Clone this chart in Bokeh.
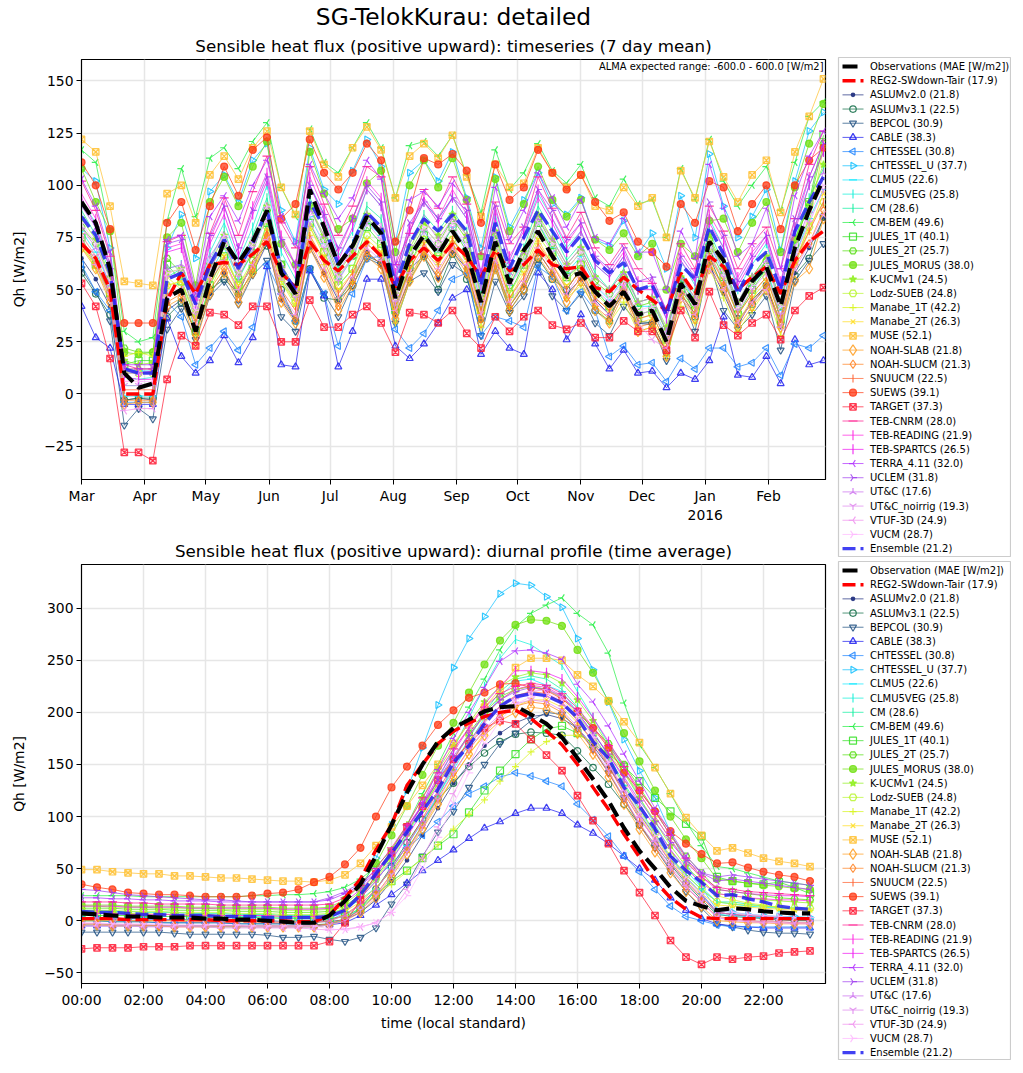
import math
import numpy as np
from bokeh.plotting import figure
from bokeh.layouts import column, row
from bokeh.models import Label, FixedTicker, Range1d, Title
from bokeh.core.properties import value
from bokeh.embed import file_html
from bokeh.resources import INLINE

FONT = "DejaVu Sans"

MONTH_DAYS = [0, 31, 61, 92, 122, 153, 184, 214, 245, 275, 306, 337]
MONTH_LABELS = ["Mar", "Apr", "May", "Jun", "Jul", "Aug", "Sep", "Oct", "Nov", "Dec", "Jan\n2016", "Feb"]
HOUR_TICKS = list(range(0, 24, 2))
HOUR_LABELS = ["%02d:00" % h for h in HOUR_TICKS]
YTICKS_TOP = [-25, 0, 25, 50, 75, 100, 125, 150]
YTICKS_BOTTOM = [-50, 0, 50, 100, 150, 200, 250, 300]

MODELS = ["ASLUMv2.0", "ASLUMv3.1", "BEPCOL", "CABLE", "CHTESSEL", "CHTESSEL_U", "CLMU5", "CLMU5VEG", "CM", "CM-BEM",
          "JULES_1T", "JULES_2T", "JULES_MORUS", "K-UCMv1", "Lodz-SUEB", "Manabe_1T", "Manabe_2T", "MUSE", "NOAH-SLAB",
          "NOAH-SLUCM", "SNUUCM", "SUEWS", "TARGET", "TEB-CNRM", "TEB-READING", "TEB-SPARTCS", "TERRA_4.11", "UCLEM",
          "UT&C", "UT&C_noirrig", "VTUF-3D", "VUCM"]
MAE = [21.8, 22.5, 30.9, 38.3, 30.8, 37.7, 22.6, 25.8, 28.6, 49.6, 40.1, 25.7, 38.0, 24.5, 24.8, 42.2, 26.3, 52.1, 21.8,
       21.3, 22.5, 39.1, 37.3, 28.0, 21.9, 26.5, 32.0, 31.8, 17.6, 19.3, 24.9, 28.7]
MAE_REG2 = 17.9
MAE_ENS = 21.2

# Weekly (7 day mean) sensible heat flux, W/m2
OBS_W = [92,82,60,10,3,5,46,50,30,55,73,63,73,88,58,48,98,80,62,71,85,77,46,66,76,67,78,68,44,73,53,69,78,66,56,58,49,42,49,38,40,25,53,43,73,64,42,54,61,42,70,88,103]
REG2_W = [72,65,50,0,0,0,45,58,48,62,63,62,67,73,58,51,73,64,59,66,73,66,51,64,70,64,72,66,56,69,59,62,69,62,60,61,51,49,56,50,45,40,58,48,66,61,50,56,61,48,64,73,78]
ENS_W = [85,76,58,12,10,10,55,58,43,62,74,60,72,88,60,50,92,80,62,72,87,80,52,72,84,78,86,78,52,82,60,75,88,78,68,76,64,58,63,50,52,38,62,55,80,67,48,62,68,50,78,92,104]
ASLUM20_W = [65,55,42,-3,-2,-3,40,45,30,48,58,48,58,72,45,35,70,58,45,55,68,62,38,55,66,55,68,60,35,62,42,52,68,58,48,55,45,38,48,34,34,20,48,38,62,48,33,45,52,32,58,70,84]
ASLUM31_W = [58,48,38,-3,-2,-2,37,44,30,50,55,48,64,71,50,35,60,46,45,52,66,63,40,60,66,50,67,55,36,60,40,50,65,55,50,60,40,35,52,35,34,20,55,37,66,50,36,43,52,34,57,65,85]
BEPCOL_W = [60,49,35,-15,-7,-12,31,41,26,47,54,43,57,64,37,30,60,48,37,52,65,62,34,54,58,49,62,57,28,54,39,47,62,47,40,48,34,28,42,34,33,16,48,30,64,40,31,38,47,21,54,64,72]
CABLE_W = [42,27,22,-5,-5,-5,36,18,10,16,28,15,27,61,14,13,59,47,13,30,55,55,23,17,24,34,46,50,19,30,22,19,58,50,26,38,24,12,21,10,11,3,10,7,16,37,9,8,18,5,26,14,16]
CHTESSEL_W = [62,49,40,-4,-4,-4,44,37,14,22,30,21,32,62,48,35,60,48,23,48,65,66,31,22,29,40,55,58,28,37,35,32,61,56,40,49,40,18,23,14,15,6,17,12,22,22,13,15,22,9,24,22,28]
CHTESSELU_W = [108,102,70,12,11,11,70,86,65,97,105,92,112,120,88,73,118,98,91,107,122,109,73,106,112,102,116,94,70,104,80,93,106,91,86,94,74,71,83,67,77,60,95,75,115,90,75,85,98,69,102,126,135]
CLMU5_W = [78,68,52,-1,-1,-1,48,55,35,58,70,55,68,88,55,45,85,72,55,65,82,76,46,66,78,68,80,70,43,74,52,64,82,70,58,66,52,45,56,42,42,28,55,45,72,58,42,52,60,40,66,84,98]
CLMU5VEG_W = [92,82,62,8,7,8,60,62,45,68,82,64,80,100,68,55,100,86,66,78,98,90,55,78,92,84,94,84,52,86,60,76,96,84,70,78,62,56,66,50,52,36,64,52,84,70,50,62,72,50,80,100,116]
CM_W = [88,76,58,4,4,4,56,60,42,64,78,60,76,94,62,50,94,80,60,72,90,84,50,72,86,78,88,78,48,80,56,70,90,78,64,72,58,50,60,44,46,30,58,48,78,62,44,56,66,44,74,94,108]
CMBEM_W = [117,111,78,30,25,27,83,108,85,113,118,108,121,130,99,85,127,111,106,118,130,118,94,119,121,114,124,105,87,117,98,106,120,107,101,110,94,90,103,91,93,75,108,93,122,102,90,100,109,88,111,133,140]
JULES1T_W = [75,62,48,14,16,16,62,54,30,52,66,52,60,82,62,48,82,68,52,60,80,72,40,62,76,68,80,68,40,72,48,62,82,68,56,62,50,42,52,38,40,26,50,40,70,56,38,50,60,36,72,92,124]
JULES2T_W = [80,72,55,22,20,20,65,58,38,60,72,56,68,88,62,50,90,74,56,66,84,78,46,68,80,72,84,74,46,76,52,66,84,72,60,68,54,48,56,42,44,30,54,44,74,60,42,54,64,42,74,90,120]
MORUS_W = [108,92,78,20,19,20,75,82,52,92,104,90,109,121,72,62,116,96,79,84,101,107,68,100,112,99,113,93,66,103,78,91,109,93,85,93,74,69,77,66,72,50,72,66,83,84,68,82,92,68,99,120,139]
KUCM_W = [84,74,56,16,14,15,58,60,38,62,76,58,72,90,60,48,90,76,58,68,86,78,48,70,82,76,86,76,46,78,54,68,86,74,62,70,56,50,58,44,46,32,56,46,76,60,44,56,66,44,74,92,110]
LODZ_W = [70,62,48,10,10,10,52,54,38,56,68,52,64,80,54,44,80,68,52,60,76,70,42,62,74,66,74,66,40,70,48,60,76,66,54,62,48,42,50,36,38,24,48,40,68,54,38,48,56,36,64,80,92]
MANABE1_W = [72,60,46,18,20,18,56,50,28,50,64,48,58,76,54,42,76,62,46,54,72,66,34,54,68,62,72,60,32,62,42,54,72,60,46,52,42,34,44,30,32,18,42,34,60,46,30,40,50,28,62,82,118]
MANABE2_W = [76,66,50,12,12,12,52,54,36,56,66,52,62,78,56,44,80,66,50,58,74,68,40,60,72,64,74,64,38,68,46,58,74,62,52,58,46,40,48,34,36,22,46,38,64,50,34,46,54,32,62,78,96]
MUSE_W = [122,116,90,54,53,52,96,100,82,105,114,103,118,126,99,86,126,110,104,118,128,117,94,114,120,113,124,104,85,110,99,101,118,106,99,105,90,88,99,90,94,75,107,94,121,104,92,105,112,87,116,133,151]
SLAB_W = [70,60,44,-5,-4,-4,42,46,24,48,58,44,58,74,44,34,70,56,40,52,66,60,36,54,66,56,68,58,34,60,40,50,66,56,44,54,40,34,48,30,32,18,46,36,60,50,32,42,50,32,54,60,84]
SLUCM_W = [72,62,46,-3,-3,-3,44,48,28,50,60,46,60,76,46,36,72,58,42,54,68,62,38,56,68,58,70,60,36,62,42,52,68,58,46,56,42,36,50,32,34,20,48,38,62,52,34,44,52,34,62,72,88]
SNUUCM_W = [74,64,48,2,2,2,48,50,34,54,64,50,62,78,50,40,76,64,48,58,72,66,42,60,72,62,74,64,40,66,46,56,72,62,50,60,46,40,52,36,38,24,50,42,66,54,38,48,56,36,64,78,92]
SUEWS_W = [111,100,79,34,34,34,82,92,69,90,109,95,117,123,84,91,122,106,98,106,120,112,73,88,113,110,115,107,82,110,93,99,117,106,98,105,92,83,87,73,68,61,91,82,102,99,78,91,100,79,100,112,118]
TARGET_W = [53,42,17,-28,-28,-32,7,28,23,39,38,33,42,42,25,25,45,32,32,38,42,34,20,39,38,34,40,29,22,37,30,37,40,33,31,34,27,27,35,30,30,21,40,27,49,33,28,34,38,26,40,47,51]
CNRM_W = [102,88,66,14,12,12,73,76,45,77,94,76,97,114,82,70,109,91,76,90,109,104,62,77,98,89,104,91,67,92,72,80,104,89,75,87,70,62,72,60,53,40,72,60,90,78,60,72,80,60,84,110,126]
READING_W = [96,84,62,12,10,11,70,72,44,74,90,70,90,106,76,62,104,88,68,84,102,94,58,80,94,84,98,86,58,88,66,78,98,84,72,82,66,58,68,54,54,40,68,58,86,74,56,68,76,54,80,104,120]
SPARTCS_W = [94,80,60,8,7,7,68,70,42,72,86,66,86,102,72,58,100,84,64,80,98,90,54,78,92,82,94,84,54,84,62,76,94,82,68,78,62,56,66,50,50,36,64,54,82,70,52,64,74,50,78,100,116]
TERRA_W = [103,90,68,14,14,14,74,76,50,85,95,83,100,112,85,72,110,96,84,94,112,103,62,93,97,90,101,93,58,99,74,88,106,94,80,93,75,72,84,68,68,50,78,65,110,89,66,72,89,60,95,114,126]
UCLEM_W = [90,80,60,12,12,12,72,74,48,76,90,70,88,104,74,62,100,86,70,84,100,92,56,82,92,84,94,88,56,90,64,80,98,88,74,82,66,60,70,54,56,40,66,56,92,76,54,66,76,52,84,104,120]
UTC_W = [80,70,52,10,10,10,60,62,42,66,76,60,74,90,62,50,88,76,58,70,86,80,48,72,84,74,84,76,50,78,58,68,84,74,62,70,56,50,58,44,46,30,56,46,72,60,44,56,64,44,70,88,106]
NOIRRIG_W = [76,66,48,4,4,4,56,58,38,60,72,56,70,84,56,46,82,70,54,66,82,74,44,66,78,70,80,70,44,72,52,62,78,68,56,64,50,44,52,38,40,26,50,42,66,56,40,50,58,38,66,82,98]
VTUF_W = [74,62,46,-8,-7,-7,46,50,32,56,64,50,62,74,48,38,74,60,46,56,70,64,40,58,70,60,70,62,38,64,44,54,70,60,48,58,44,38,52,34,26,22,46,38,60,50,34,44,50,32,60,72,86]
VUCM_W = [82,72,54,6,6,6,58,60,40,64,76,58,72,90,60,48,86,72,56,66,84,76,46,66,80,72,82,72,46,74,54,64,82,72,60,68,52,46,54,40,42,28,52,44,70,58,42,52,62,42,68,86,100]

# Diurnal profile (half-hourly), W/m2
OBS_D = [7,6,5,4,4,3,3,3,2,2,1,1,0,-1,-2,-2,5,19,35,62,92,123,150,172,185,193,201,205,206,198,189,176,156,136,115,89,67,50,32,19,14,10,12,11,9,8,7,7]
REG2_D = [2,2,2,1,1,1,1,1,1,0,0,0,0,0,-1,-1,5,22,40,68,92,130,150,170,182,190,196,200,202,194,182,169,150,128,107,83,61,38,22,11,3,2,2,2,2,2,2,2]
ENS_D = [9,8,8,7,6,6,5,5,5,4,4,4,3,3,3,3,4,10,25,45,65,85,105,126,152,168,189,206,215,218,216,209,195,172,156,128,110,88,62,48,37,24,25,21,18,14,12,11]
ASLUM20_D = [3,3,2,2,2,1,1,1,1,0,0,0,0,-1,-1,-1,-1,1,8,20,38,58,82,108,132,150,168,180,190,196,198,194,185,168,148,125,102,82,60,42,26,8,6,4,3,2,1,1]
ASLUM31_D = [0,0,-1,-1,-1,-2,-2,-2,-2,-2,-3,-3,-3,-3,-3,-4,-3,0,12,30,52,75,97,117,132,148,161,172,179,181,180,178,163,147,131,112,92,73,54,36,20,6,4,3,2,1,0,0]
BEPCOL_D = [-11,-11,-11,-11,-11,-11,-12,-13,-13,-13,-13,-13,-14,-16,-16,-15,-18,-20,-16,-7,16,35,62,85,105,128,150,170,180,192,200,198,185,165,142,118,92,70,48,28,12,-3,-6,-9,-11,-12,-12,-13]
CABLE_D = [-5,-5,-5,-5,-5,-5,-5,-5,-5,-5,-5,-5,-5,-5,-5,-5,-4,-2,5,15,25,36,48,58,68,79,89,95,103,108,108,103,92,84,74,62,50,39,22,10,2,-3,-5,-6,-7,-7,-7,-7]
CHTESSEL_D = [0,0,-1,-1,-1,-2,-2,-2,-2,-2,-3,-3,-3,-3,-3,-3,3,10,25,40,55,70,82,95,110,122,129,138,142,139,134,129,112,97,81,62,47,30,14,4,0,-4,-6,-6,-6,-6,-6,-6]
CHTESSELU_D = [3,3,2,2,2,1,1,1,1,0,0,0,0,-1,-1,-1,0,8,28,60,92,125,166,207,243,271,292,314,324,322,311,301,271,241,210,174,144,118,85,55,32,10,8,6,5,4,4,3]
CLMU5_D = [-4,-4,-4,-5,-5,-5,-5,-5,-6,-6,-6,-6,-6,-6,-6,-6,-4,2,12,30,50,72,95,120,145,170,195,215,230,232,226,220,200,178,155,130,104,82,60,42,26,6,5,4,3,3,2,2]
CLMU5VEG_D = [8,8,7,7,6,6,6,5,5,5,4,4,4,3,3,3,4,10,22,38,58,82,108,135,165,195,225,252,270,265,255,245,220,195,170,145,118,92,68,48,32,18,16,14,13,12,12,11]
CM_D = [10,10,9,9,8,8,8,7,7,7,6,6,6,5,5,5,6,12,20,32,48,68,92,120,148,175,200,220,232,235,232,222,205,182,158,132,108,84,60,44,30,18,18,16,14,13,12,12]
CMBEM_D = [24,24,24,24,23,23,23,23,23,23,23,24,24,25,25,26,28,32,40,52,68,92,122,150,180,205,232,260,282,295,303,310,295,284,257,209,169,147,122,95,72,52,50,46,42,38,36,34]
JULES1T_D = [5,5,5,5,4,4,4,4,3,3,3,3,3,2,2,2,2,4,12,25,38,48,60,72,83,104,125,144,160,174,184,187,180,170,160,148,134,118,105,93,81,42,38,36,35,37,32,26]
JULES2T_D = [12,12,12,11,11,11,10,10,10,10,9,9,9,8,8,8,9,14,25,42,62,85,108,132,155,180,200,215,222,225,222,215,200,185,170,150,128,105,82,62,46,30,28,26,24,22,21,20]
MORUS_D = [15,15,15,14,14,14,14,13,13,13,13,13,13,12,12,12,13,20,34,55,82,110,140,168,190,219,246,269,284,289,288,283,260,238,211,180,153,125,100,78,60,40,38,36,34,33,31,30]
KUCM_D = [14,14,13,13,13,12,12,12,12,11,11,11,11,10,10,10,11,16,28,46,68,92,118,145,168,190,210,225,234,238,236,228,212,192,168,142,118,95,72,52,38,26,24,22,20,19,18,17]
LODZ_D = [10,10,10,9,9,9,8,8,8,8,7,7,7,6,6,6,7,12,24,40,60,84,108,132,155,178,196,212,222,225,222,214,198,178,155,130,106,84,62,44,30,18,16,15,14,13,12,12]
MANABE1_D = [0,0,0,0,0,0,0,0,0,0,-1,-1,-1,-1,-1,-1,0,5,15,25,35,47,60,73,88,102,116,134,148,162,172,178,178,172,160,142,122,100,78,58,40,24,20,17,15,13,11,10]
MANABE2_D = [8,8,7,7,7,6,6,6,6,5,5,5,5,4,4,4,5,9,18,32,48,68,90,114,138,160,180,196,206,212,212,205,190,172,150,126,102,80,58,40,26,15,14,13,12,11,10,10]
MUSE_D = [49,49,47,46,45,45,43,43,42,41,41,40,39,38,38,37,39,44,55,72,90,110,130,150,170,190,205,222,243,252,252,250,236,225,211,191,171,147,122,99,82,67,70,65,60,57,55,52]
SLAB_D = [-4,-4,-5,-5,-5,-5,-6,-6,-6,-6,-6,-6,-6,-6,-6,-6,-4,0,8,22,42,64,88,112,138,160,178,192,200,205,203,196,180,160,138,112,88,66,46,28,14,0,-1,-2,-2,-3,-3,-3]
SLUCM_D = [-3,-3,-4,-4,-4,-5,-5,-5,-5,-5,-5,-5,-5,-5,-5,-5,-3,2,10,25,45,68,92,118,142,165,182,196,206,210,208,200,184,164,142,116,92,70,50,32,18,4,2,0,-1,-1,-2,-2]
SNUUCM_D = [1,1,1,0,0,0,0,-1,-1,-1,-1,-1,-2,-2,-2,-2,0,6,16,30,50,72,98,125,150,172,192,206,216,220,218,210,192,172,148,122,98,78,56,38,22,8,6,5,4,3,3,2]
SUEWS_D = [35,32,30,27,26,25,25,24,23,23,23,24,26,27,30,37,42,54,70,100,128,148,168,188,202,214,219,227,228,224,221,213,201,185,166,142,125,105,86,74,64,55,56,51,47,44,42,38]
TARGET_D = [-27,-26,-26,-26,-25,-25,-25,-24,-24,-24,-24,-24,-24,-24,-24,-24,-20,-2,20,45,65,90,110,135,155,170,185,192,189,174,159,144,120,96,74,48,27,5,-19,-35,-42,-35,-37,-35,-34,-31,-30,-29]
CNRM_D = [18,18,18,17,17,16,16,16,16,15,15,15,15,15,15,15,16,22,34,50,70,92,118,142,165,185,205,218,225,228,226,218,204,186,168,148,125,105,82,60,42,32,30,28,27,26,25,24]
READING_D = [7,7,7,6,6,6,6,5,5,5,5,5,5,4,4,4,5,11,22,38,58,80,105,130,155,178,198,212,222,226,224,216,200,180,160,136,112,90,68,50,36,26,24,22,21,20,20,19]
SPARTCS_D = [14,14,14,13,13,13,13,12,12,12,12,12,12,11,11,11,12,18,30,46,66,90,112,138,162,185,208,225,240,240,238,232,215,195,172,148,122,100,78,56,42,30,28,26,25,24,24,23]
TERRA_D = [22,22,21,21,20,20,19,19,19,18,18,18,18,18,18,18,20,26,34,46,62,85,112,145,175,200,224,249,259,260,257,251,227,210,187,160,134,108,85,62,46,38,40,38,36,34,32,30]
UCLEM_D = [30,29,27,25,24,23,22,21,20,20,19,18,18,18,18,18,22,28,36,48,65,88,112,135,158,178,198,212,220,224,222,215,200,180,160,138,115,95,75,58,46,42,44,42,40,38,36,34]
UTC_D = [3,3,2,2,2,1,1,1,1,0,0,0,-1,-1,-1,-1,0,5,15,30,50,72,96,122,148,170,190,205,215,218,216,208,192,172,150,125,100,78,56,38,24,8,6,5,4,3,3,2]
NOIRRIG_D = [-3,-3,-3,-4,-4,-4,-5,-5,-5,-5,-5,-6,-6,-6,-6,-6,-4,0,10,24,44,66,90,116,142,164,184,198,208,212,210,202,186,166,144,118,94,72,50,32,18,3,1,0,-1,-1,-2,-2]
VTUF_D = [-5,-5,-5,-5,-6,-6,-6,-6,-6,-7,-7,-7,-7,-7,-7,-8,-9,-8,-6,-2,8,30,60,90,122,150,178,198,212,220,222,215,200,178,152,125,100,76,52,34,18,3,0,-1,-2,-2,-3,-3]
VUCM_D = [-2,-2,-3,-3,-3,-3,-4,-4,-4,-4,-4,-5,-5,-5,-5,-5,-8,-9,-6,-2,8,24,50,80,112,142,170,192,208,215,218,212,196,176,152,128,104,82,60,42,26,10,8,6,5,4,3,3]

WEEKLY = [ASLUM20_W, ASLUM31_W, BEPCOL_W, CABLE_W, CHTESSEL_W, CHTESSELU_W, CLMU5_W, CLMU5VEG_W, CM_W, CMBEM_W,
          JULES1T_W, JULES2T_W, MORUS_W, KUCM_W, LODZ_W, MANABE1_W, MANABE2_W, MUSE_W, SLAB_W, SLUCM_W, SNUUCM_W,
          SUEWS_W, TARGET_W, CNRM_W, READING_W, SPARTCS_W, TERRA_W, UCLEM_W, UTC_W, NOIRRIG_W, VTUF_W, VUCM_W]
DIURNAL = [ASLUM20_D, ASLUM31_D, BEPCOL_D, CABLE_D, CHTESSEL_D, CHTESSELU_D, CLMU5_D, CLMU5VEG_D, CM_D, CMBEM_D,
           JULES1T_D, JULES2T_D, MORUS_D, KUCM_D, LODZ_D, MANABE1_D, MANABE2_D, MUSE_D, SLAB_D, SLUCM_D, SNUUCM_D,
           SUEWS_D, TARGET_D, CNRM_D, READING_D, SPARTCS_D, TERRA_D, UCLEM_D, UTC_D, NOIRRIG_D, VTUF_D, VUCM_D]

X_WEEK = np.arange(53) * 7
X_HOUR = np.arange(48) * 0.5

R = math.pi / 2
# colour, marker, size, angle, fill alpha
STYLE = [
    ("#20307f", "circle", 3.5, 0, 0.9), ("#0f6b45", "circle", 6.5, 0, 0.0), ("#1f4f80", "inverted_triangle", 7, 0, 0.05),
    ("#1d1dee", "triangle", 7, 0, 0.05), ("#1f85ff", "triangle", 7, R, 0.05), ("#10c0ff", "triangle", 7, -R, 0.0),
    ("#10e8ff", "dash", 8, 0, 0), ("#10f0d8", "dash", 9, R, 0), ("#10f0a0", "dash", 9, R, 0), ("#25ee45", "y", 8, -R, 0),
    ("#30e020", "square", 7, 0, 0.0), ("#55dd10", "hex", 7, 0, 0.1), ("#70e010", "circle", 7, 0, 0.75), ("#90f020", "star", 7.5, 0, 0.8),
    ("#b8f530", "hex", 7.5, 0, 0.0), ("#d8f520", "cross", 7, 0, 0), ("#ffdd20", "x", 6.5, 0, 0), ("#ffc030", "square_x", 6.5, 0, 0.15),
    ("#ff9d20", "diamond", 10.5, 0, 0.0), ("#ff8020", "diamond", 8.5, 0, 0.0), ("#ff6030", "dash", 8, R, 0), ("#ff3a15", "circle", 7, 0, 0.75),
    ("#ff1a35", "square_x", 6.5, 0, 0.1), ("#ff1a90", "dash", 9, 0, 0), ("#ff25e0", "dash", 10, R, 0), ("#ee15f0", "dash", 10, R, 0),
    ("#b030ff", "y", 8, -R, 0), ("#a040ee", "y", 8, R, 0), ("#cc70ee", "y", 8, R * 2, 0), ("#e088ee", "y", 8, 0, 0),
    ("#f090ee", "y", 8.5, -R, 0), ("#ffb8ff", "y", 8.5, R, 0),
]
OBS_STYLE = dict(line_color="black", line_width=4.1, line_dash="15 7")
REG2_STYLE = dict(line_color="#ff0000", line_width=3.4, line_dash="13 5")
ENS_STYLE = dict(line_color="#2020f0", line_width=3.4, line_dash="13 5", line_alpha=0.85)


def base_figure(height, top, bottom, yr, yticks, ylab_over):
    p = figure(width=837, height=height, min_border_left=81, min_border_right=12, min_border_top=top,
               min_border_bottom=bottom, toolbar_location=None, output_backend="svg",
               y_range=Range1d(*yr), tools="")
    p.outline_line_color = "black"
    p.outline_line_width = 1.2
    p.grid.grid_line_color = "#e6e6e6"
    p.grid.grid_line_width = 1.5
    for ax in (p.xaxis[0], p.yaxis[0]):
        ax.axis_line_color = "black"
        ax.major_tick_line_color = "black"
        ax.major_tick_in = 0
        ax.major_tick_out = 5
        ax.minor_tick_line_color = None
        ax.major_label_standoff = 3
        ax.major_label_text_font = FONT
        ax.major_label_text_font_size = "13.9px"
        ax.major_label_text_color = "black"
        ax.axis_label_text_font = FONT
        ax.axis_label_text_font_size = "13.9px"
        ax.axis_label_text_font_style = "normal"
        ax.axis_label_text_color = "black"
    p.yaxis[0].ticker = FixedTicker(ticks=yticks)
    p.yaxis[0].major_label_overrides = ylab_over
    p.yaxis[0].axis_label = "Qh [W/m2]"
    p.yaxis[0].axis_label_standoff = 14
    return p


def add_all(p, x, series, obs, reg2, ens):
    for y, st in zip(series, STYLE):
        col, mk, sz, ang, fa = st
        p.line(x, y, line_color=col, line_width=0.9, line_alpha=0.8)
        p.scatter(x, y, marker=mk, size=sz, angle=ang, line_color=col, line_width=1.2, line_alpha=0.85,
                  fill_color=col, fill_alpha=fa)
    p.line(x, reg2, **REG2_STYLE)
    p.line(x, ens, **ENS_STYLE)
    p.line(x, obs, **OBS_STYLE)


def legend_fig(first_label, height, top_margin):
    """Legend box drawn as its own small figure: one row per series."""
    p = figure(width=174, height=height, min_border_left=1, min_border_right=1, min_border_top=1, min_border_bottom=1,
               x_range=Range1d(0, 172), y_range=Range1d(height - 2, 0), x_axis_type=None, y_axis_type=None,
               toolbar_location=None, output_backend="svg", tools="", margin=(top_margin, 0, 0, 0))
    p.outline_line_color = "#cccccc"
    p.outline_line_width = 1.2
    labels = [first_label, "REG2-SWdown-Tair (%.1f)" % MAE_REG2]
    labels += ["%s (%.1f)" % (m, e) for m, e in zip(MODELS, MAE)]
    labels += ["Ensemble (%.1f)" % MAE_ENS]
    rows = [9 + i * 14.18 for i in range(len(labels))]
    seg = [4, 25]
    mid = 14.5
    p.line(seg, [rows[0]] * 2, **OBS_STYLE)
    p.line(seg, [rows[1]] * 2, **REG2_STYLE)
    p.line(seg, [rows[-1]] * 2, **ENS_STYLE)
    for yy, st in zip(rows[2:-1], STYLE):
        col, mk, sz, ang, fa = st
        p.line(seg, [yy, yy], line_color=col, line_width=0.9, line_alpha=0.8)
        p.scatter([mid], [yy], marker=mk, size=sz, angle=ang, line_color=col, line_width=1.2, line_alpha=0.85,
                  fill_color=col, fill_alpha=fa)
    p.text([31.5] * len(labels), rows, text=labels, text_font=value(FONT), text_font_size="10px",
           text_baseline="middle", text_color="black")
    return p


def ttl(s, size, standoff=0, line_height=1.2):
    return Title(text=s, align="center", text_font=FONT, text_font_size=size, text_font_style="normal",
                 text_color="black", standoff=standoff, text_line_height=line_height)


# ---- top panel
top = base_figure(534, 59, 55, (-41, 160.3), YTICKS_TOP, {-25: "\u221225"})
top.x_range = Range1d(0, 365)
top.xaxis[0].ticker = FixedTicker(ticks=MONTH_DAYS)
top.xaxis[0].major_label_overrides = dict(zip(MONTH_DAYS, MONTH_LABELS))
add_all(top, X_WEEK, WEEKLY, OBS_W, REG2_W, ENS_W)
top.add_layout(ttl("Sensible heat flux (positive upward): timeseries (7 day mean)", "16.7px", standoff=8, line_height=0.9), "above")
top.add_layout(ttl("SG-TelokKurau: detailed", "23.3px", line_height=0.9), "above")
top.add_layout(Label(x=742, y=413, x_units="screen", y_units="screen", text="ALMA expected range: -600.0 - 600.0 [W/m2]",
                     text_font=FONT, text_font_size="9.9px", text_align="right", text_baseline="middle", text_color="black"))

# ---- bottom panel
bot = base_figure(536, 29, 87, (-60.3, 342), YTICKS_BOTTOM, {-50: "\u221250"})
bot.x_range = Range1d(0, 24)
bot.xaxis[0].ticker = FixedTicker(ticks=HOUR_TICKS)
bot.xaxis[0].major_label_overrides = dict(zip(HOUR_TICKS, HOUR_LABELS))
bot.xaxis[0].axis_label = "time (local standard)"
bot.xaxis[0].axis_label_standoff = 4
add_all(bot, X_HOUR, DIURNAL, OBS_D, REG2_D, ENS_D)
bot.add_layout(ttl("Sensible heat flux (positive upward): diurnal profile (time average)", "16.7px", standoff=8, line_height=0.9), "above")

leg_top = legend_fig("Observations (MAE [W/m2])", 501, 56)
leg_bot = legend_fig("Observation (MAE [W/m2])", 500, 3)

page = row(column(top, bot, spacing=0), column(leg_top, leg_bot, spacing=0), spacing=0)
open("out.html", "w").write(file_html(page, INLINE))
